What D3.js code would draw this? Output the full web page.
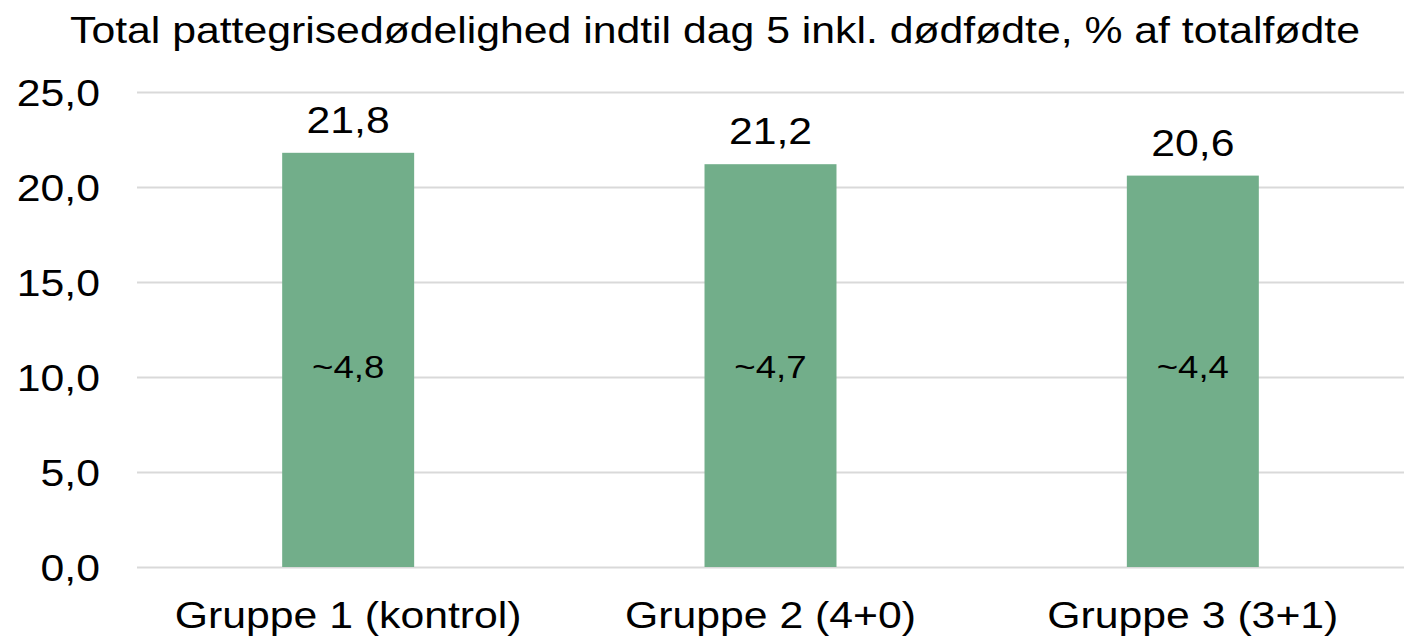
<!DOCTYPE html>
<html>
<head>
<meta charset="utf-8">
<script src="https://cdn.jsdelivr.net/npm/d3@7"></script>
<style>
  body { margin: 0; background: #fff; }
  text { font-family: "Liberation Sans", Arial, sans-serif; fill: #000; }
</style>
</head>
<body>
<div id="chart"></div>
<script>
// chart data
var categories = ['Gruppe 1 (kontrol)', 'Gruppe 2 (4+0)', 'Gruppe 3 (3+1)'];
var values = [21.8, 21.2, 20.6];
var innerLabels = ['~4,8', '~4,7', '~4,4'];
var yTicks = [0, 5, 10, 15, 20, 25];
var chartTitle = 'Total pattegrisedødelighed indtil dag 5 inkl. dødfødte, % af totalfødte';

// page constants
var width = 1404;
var height = 640;
var margin = {top: 92, right: 0, bottom: 73, left: 137};
var stretch = 1.155; // the text in the original is a bit wide

var svg = d3.select('#chart')
    .append('svg')
    .attr('width', width)
    .attr('height', height);

var x = d3.scaleBand()
    .domain(categories)
    .range([margin.left, width - margin.right])
    .paddingInner(0.6875)
    .paddingOuter(0.34375);

var y = d3.scaleLinear()
    .domain([0, 25])
    .range([height - margin.bottom, margin.top]);

var fmt = function(v) { return d3.format('.1f')(v).replace('.', ','); };
var place = function(px, py, sx) { return 'translate(' + px + ',' + py + ') scale(' + sx + ',1)'; };

// gridlines
svg.append('g')
    .selectAll('line')
    .data(yTicks)
    .enter()
    .append('line')
    .attr('x1', margin.left)
    .attr('x2', width - margin.right)
    .attr('y1', d => Math.round(y(d)) + 0.5)
    .attr('y2', d => Math.round(y(d)) + 0.5)
    .attr('stroke', '#d9d9d9')
    .attr('stroke-width', 2);

// y axis labels
svg.append('g')
    .selectAll('text')
    .data(yTicks)
    .enter()
    .append('text')
    .attr('transform', d => place(100, y(d) + 14, stretch))
    .style('text-anchor', 'end')
    .style('font-size', '37px')
    .text(d => fmt(d));

// bars
svg.append('g')
    .selectAll('rect')
    .data(values)
    .enter()
    .append('rect')
    .attr('x', (d, i) => x(categories[i]))
    .attr('y', d => y(d))
    .attr('width', x.bandwidth())
    .attr('height', d => y(0) - y(d))
    .attr('fill', '#72ae8a');

// value labels above bars
svg.append('g')
    .selectAll('text')
    .data(values)
    .enter()
    .append('text')
    .attr('transform', (d, i) => place(x(categories[i]) + x.bandwidth() / 2, y(d) - 20, stretch))
    .style('text-anchor', 'middle')
    .style('font-size', '37px')
    .text(d => fmt(d));

// labels inside bars
svg.append('g')
    .selectAll('text')
    .data(innerLabels)
    .enter()
    .append('text')
    .attr('transform', (d, i) => place(x(categories[i]) + x.bandwidth() / 2, y(10) + 1, 1.145))
    .style('text-anchor', 'middle')
    .style('font-size', '32px')
    .text(d => d);

// category labels
svg.append('g')
    .selectAll('text')
    .data(categories)
    .enter()
    .append('text')
    .attr('transform', d => place(x(d) + x.bandwidth() / 2, 628, stretch))
    .style('text-anchor', 'middle')
    .style('font-size', '37px')
    .text(d => d);

// title
svg.append('text')
    .attr('transform', place(715, 43, stretch))
    .style('text-anchor', 'middle')
    .style('font-size', '37px')
    .text(chartTitle);
</script>
</body>
</html>
